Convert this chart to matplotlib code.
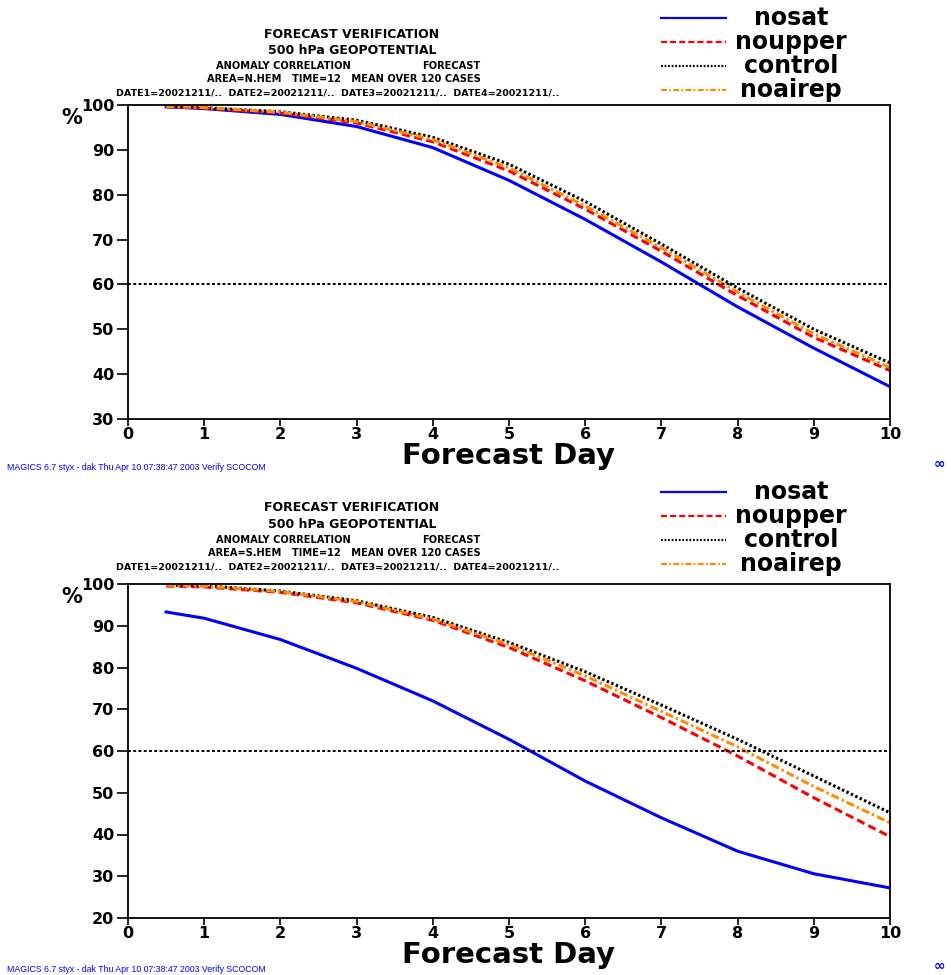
import matplotlib
matplotlib.use("Agg")
import matplotlib.pyplot as plt

plt.rcParams['font.family'] = ['DejaVu Sans']

days = [0.5, 1, 2, 3, 4, 5, 6, 7, 8, 9, 10]

# northern hemisphere
nh_nosat = [99.6, 99.2, 97.9, 95.2, 90.5, 83.2, 74.5, 65.0, 55.0, 45.8, 37.2]
nh_noupper = [99.6, 99.3, 98.2, 96.0, 91.8, 85.3, 76.8, 67.4, 57.5, 48.2, 40.8]
nh_control = [99.7, 99.4, 98.5, 96.6, 92.8, 86.8, 78.5, 69.0, 59.2, 50.0, 42.5]
nh_noairep = [99.7, 99.4, 98.4, 96.3, 92.3, 86.0, 77.5, 68.2, 58.3, 49.0, 41.5]

# southern hemisphere
sh_nosat = [93.3, 91.8, 86.7, 79.8, 72.0, 62.8, 52.8, 44.0, 36.0, 30.6, 27.2]
sh_noupper = [99.5, 99.3, 98.0, 95.5, 91.3, 84.8, 76.8, 68.0, 58.8, 48.8, 39.5]
sh_control = [99.7, 99.6, 98.3, 96.0, 92.0, 86.0, 79.0, 71.0, 62.8, 54.0, 45.2]
sh_noairep = [99.7, 99.5, 98.2, 95.8, 91.6, 85.5, 78.0, 69.5, 61.0, 51.5, 42.8]

names = ["nosat", "noupper", "control", "noairep"]
colors = ["#0000ff", "#ff0000", "#000000", "#ff8c00"]
styles = ["-", (0, (2.7, 1.4)), (0, (0.8, 0.8)), (0, (2.7, 1.0, 0.8, 1.0))]

W, H = 951, 975
fig = plt.figure(figsize=(W / 100, H / 100), dpi=100)


def ftxt(x, y, s, **kw):
    # place text using pixel coordinates measured from the top-left corner
    fig.text(x / W, 1 - y / H, s, **kw)


def panel(top, bottom, ymin, series, area, yoff, foot_y):
    ax = fig.add_axes([128 / W, 1 - bottom / H, (890 - 128) / W, (bottom - top) / H])
    for vals, name, c, ls in zip(series, names, colors, styles):
        ax.plot(days, vals, color=c, linestyle=ls, lw=2.2, label=name)
    ax.axhline(60, color="black", linestyle=(0, (1.5, 1.2)), lw=1.4)
    ax.set_xlim(0, 10)
    ax.set_ylim(ymin, 100)
    ax.set_xticks(range(11))
    ax.set_yticks(range(ymin, 101, 10))
    ax.tick_params(labelsize=11.5, width=1.2, direction="out")
    ax.tick_params(axis="x", length=5, pad=1)
    ax.tick_params(axis="y", length=8, pad=2)
    for lab in ax.get_xticklabels() + ax.get_yticklabels():
        lab.set_fontweight("bold")
    for sp in ax.spines.values():
        sp.set_linewidth(1.3)
    ax.set_xlabel("Forecast Day", fontsize=21, fontweight="bold", labelpad=0)
    ax.text(-0.087, 0.99, "%", transform=ax.transAxes, fontsize=15,
            fontweight="bold", va="top", ha="left")

    # header text block
    ftxt(352, yoff + 34, "FORECAST VERIFICATION", fontsize=9, fontweight="bold", ha="center", va="center")
    ftxt(352, yoff + 50, "500 hPa GEOPOTENTIAL", fontsize=9, fontweight="bold", ha="center", va="center")
    ftxt(283, yoff + 66, "ANOMALY CORRELATION", fontsize=7.1, fontweight="bold", ha="center", va="center")
    ftxt(451, yoff + 66, "FORECAST", fontsize=7.1, fontweight="bold", ha="center", va="center")
    ftxt(344, yoff + 79, "AREA=%s   TIME=12   MEAN OVER 120 CASES" % area,
         fontsize=7.1, fontweight="bold", ha="center", va="center")
    ftxt(338, yoff + 93, "DATE1=20021211/..  DATE2=20021211/..  DATE3=20021211/..  DATE4=20021211/..",
         fontsize=6.8, fontweight="bold", ha="center", va="center")

    # legend drawn as line samples with labels
    for i, (name, c, ls) in enumerate(zip(names, colors, styles)):
        y = yoff + 18 + i * 24
        fig.add_artist(plt.Line2D([661 / W, 726 / W], [1 - y / H, 1 - y / H],
                                  color=c, linestyle=ls, lw=1.6))
        ftxt(791, y, name, fontsize=17, fontweight="bold", ha="center", va="center")

    ftxt(7, foot_y, "MAGICS 6.7 styx - dak Thu Apr 10 07:38:47 2003 Verify SCOCOM",
         fontsize=6.3, color="#0000ff", ha="left", va="center", family="Liberation Sans")
    ftxt(934, foot_y - 4, "\u221e", fontsize=10, fontweight="bold", color="#0000ff",
         ha="left", va="center")
    return ax


panel(105, 419, 30, [nh_nosat, nh_noupper, nh_control, nh_noairep], "N.HEM", 0, 468)
panel(584, 918, 20, [sh_nosat, sh_noupper, sh_control, sh_noairep], "S.HEM", 474, 970)

fig.savefig("out.png", dpi=100)
